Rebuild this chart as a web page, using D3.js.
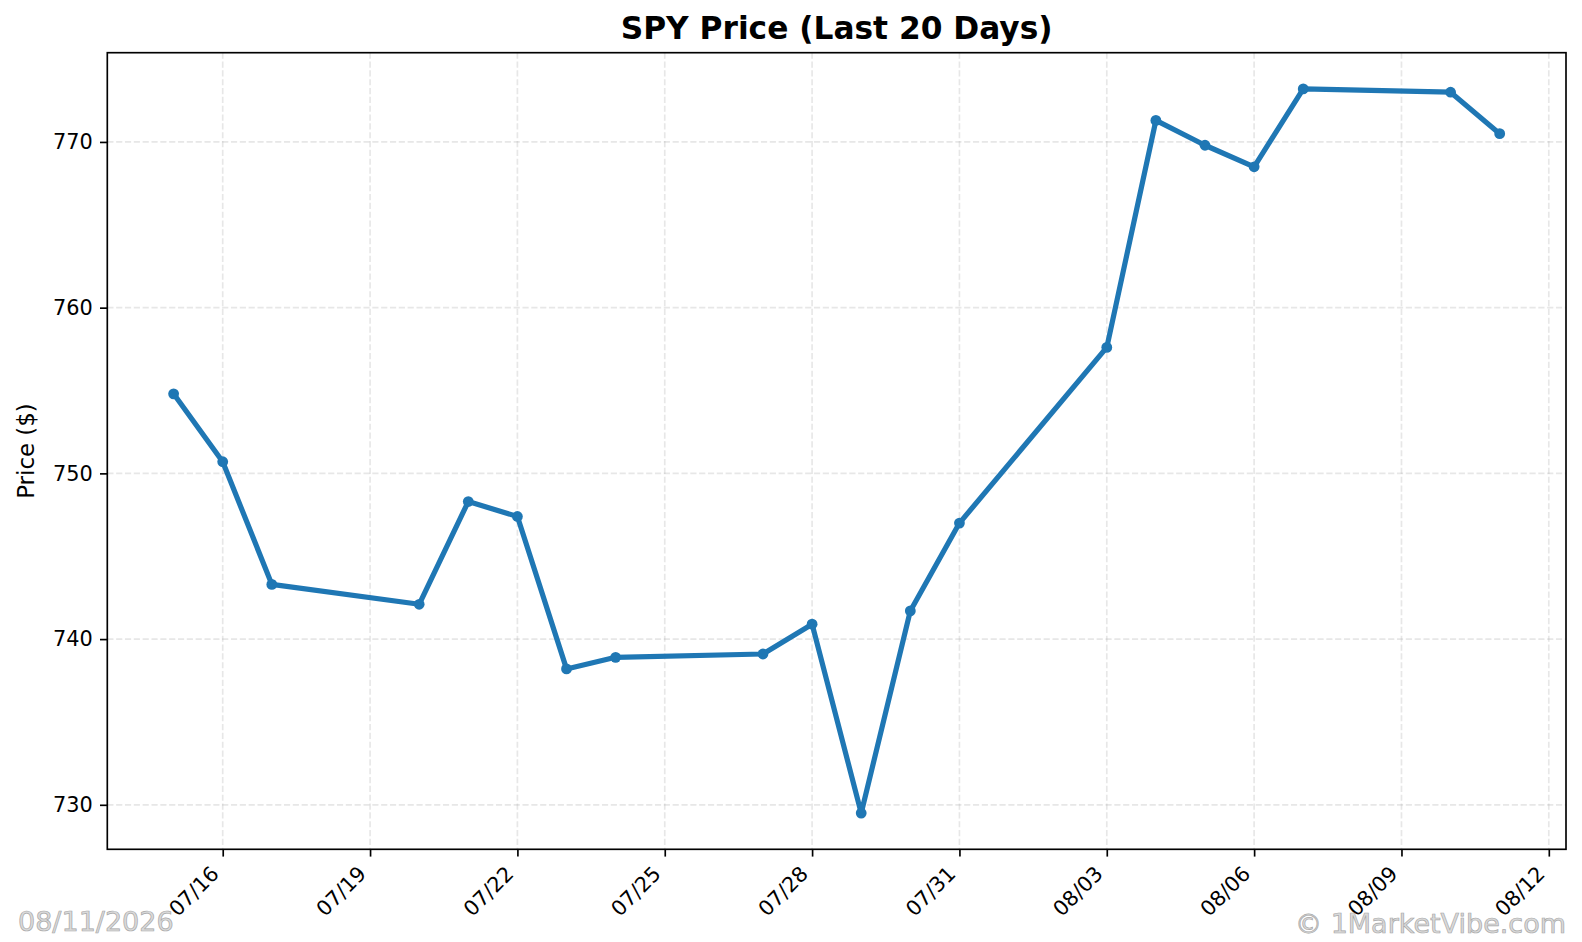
<!DOCTYPE html>
<html>
<head>
<meta charset="utf-8">
<style>
body { margin: 0; background: #fff; }
text { font-family: "DejaVu Sans", sans-serif; }
#xAxis path, #yAxis path { display: none; }
</style>
</head>
<body>
<div id="chart"></div>
<script src="https://d3js.org/d3.v7.min.js"></script>
<script>

// SPY closing prices, last 20 trading days (2026)
var dates = ["07/15", "07/16", "07/17", "07/20", "07/21", "07/22", "07/23", "07/24",
             "07/27", "07/28", "07/29", "07/30", "07/31", "08/03", "08/04", "08/05",
             "08/06", "08/07", "08/10", "08/11"];
var prices = [754.8, 750.7, 743.3, 742.1, 748.3, 747.4, 738.2, 738.9,
              739.1, 740.9, 729.5, 741.7, 747.0, 757.6, 771.3, 769.8,
              768.5, 773.2, 773.0, 770.5];
var xTickLabels = ["07/16", "07/19", "07/22", "07/25", "07/28", "07/31",
                   "08/03", "08/06", "08/09", "08/12"];
var yTicks = [730, 740, 750, 760, 770];
var year = 2026;

var W = 1582, H = 942;
var margin = {top: 52.7, right: 16, bottom: 92.7, left: 107.3};
var width = W - margin.left - margin.right,
    height = H - margin.top - margin.bottom;

var pt = 150 / 72;          // figure was rendered at 150 dpi
var fs = 10 * pt;           // tick font size
var tickLen = 3.5 * pt;
var pad = 3.5 * pt;

var parse = function(s) {
  var p = s.split("/");
  return new Date(Date.UTC(year, +p[0] - 1, +p[1]));
};

var data = dates.map(function(d, i) { return {date: parse(d), price: prices[i]}; });

var svg = d3.select("#chart")
  .append("svg")
    .attr("width", W)
    .attr("height", H);

svg.append("rect").attr("width", W).attr("height", H).attr("fill", "#fff");

var g = svg.append("g")
    .attr("transform", "translate(" + margin.left + "," + margin.top + ")");

// matplotlib-like 5% margins
var xExt = d3.extent(data, function(d) { return d.date; });
var xSpan = xExt[1] - xExt[0];
var x = d3.scaleUtc()
  .domain([new Date(+xExt[0] - 0.05 * xSpan), new Date(+xExt[1] + 0.05 * xSpan)])
  .range([0, width]);

var yExt = d3.extent(prices);
var ySpan = yExt[1] - yExt[0];
var y = d3.scaleLinear()
  .domain([yExt[0] - 0.05 * ySpan, yExt[1] + 0.05 * ySpan])
  .range([height, 0]);

var xTicks = xTickLabels.map(parse);

// grid
var grid = g.append("g")
  .attr("stroke", "#b0b0b0")
  .attr("stroke-opacity", 0.3)
  .attr("stroke-width", 0.8 * pt)
  .attr("stroke-dasharray", (2.96 * pt) + "," + (1.28 * pt));

grid.selectAll(".vgrid")
  .data(xTicks)
  .enter()
  .append("line")
    .attr("x1", function(d) { return x(d); })
    .attr("x2", function(d) { return x(d); })
    .attr("y1", 0)
    .attr("y2", height);

grid.selectAll(".hgrid")
  .data(yTicks)
  .enter()
  .append("line")
    .attr("x1", 0)
    .attr("x2", width)
    .attr("y1", function(d) { return y(d); })
    .attr("y2", function(d) { return y(d); });

// price line
var line = d3.line()
  .x(function(d) { return x(d.date); })
  .y(function(d) { return y(d.price); });

g.append("path")
  .datum(data)
  .attr("fill", "none")
  .attr("stroke", "#1f77b4")
  .attr("stroke-width", 2.5 * pt)
  .attr("stroke-linejoin", "round")
  .attr("d", line);

g.selectAll(".dot")
  .data(data)
  .enter()
  .append("circle")
    .attr("cx", function(d) { return x(d.date); })
    .attr("cy", function(d) { return y(d.price); })
    .attr("r", 5.4)
    .attr("fill", "#1f77b4");

// x axis
var xAxis = g.append("g")
  .attr("id", "xAxis")
  .attr("transform", "translate(0," + height + ")")
  .call(d3.axisBottom(x)
    .tickValues(xTicks)
    .tickFormat(function(d, i) { return xTickLabels[i]; })
    .tickSize(tickLen)
    .tickSizeOuter(0));

xAxis.selectAll("line").attr("stroke", "#000").attr("stroke-width", 0.8 * pt);
xAxis.selectAll("text")
  .attr("fill", "#000")
  .style("font-size", fs + "px")
  .attr("text-anchor", "end")
  .attr("dy", null)
  .attr("x", -3.1)
  .attr("y", tickLen + pad + 11.2)
  .attr("transform", "rotate(-45," + (-3.1) + "," + (tickLen + pad + 11.2) + ")");

// y axis
var yAxis = g.append("g")
  .attr("id", "yAxis")
  .call(d3.axisLeft(y)
    .tickValues(yTicks)
    .tickSize(tickLen)
    .tickPadding(pad)
    .tickSizeOuter(0));

yAxis.selectAll("line").attr("stroke", "#000").attr("stroke-width", 0.8 * pt);
yAxis.selectAll("text")
  .attr("fill", "#000")
  .style("font-size", fs + "px");

// frame
g.append("rect")
  .attr("width", width)
  .attr("height", height)
  .attr("fill", "none")
  .attr("stroke", "#000")
  .attr("stroke-width", 0.8 * pt);

// title and label
svg.append("text")
  .attr("x", margin.left + width / 2)
  .attr("y", 39)
  .attr("text-anchor", "middle")
  .style("font-size", (15 * pt) + "px")
  .style("font-weight", "bold")
  .text("SPY Price (Last 20 Days)");

svg.append("text")
  .attr("transform", "translate(34," + (margin.top + height / 2) + ") rotate(-90)")
  .attr("text-anchor", "middle")
  .style("font-size", (11 * pt) + "px")
  .text("Price ($)");

// watermarks
svg.append("text")
  .attr("x", 18)
  .attr("y", 931)
  .style("font-size", "27px")
  .attr("fill", "#dadada")
  .attr("stroke", "#a8a8a8")
  .attr("stroke-width", 0.7)
  .text("08/11/2026");

svg.append("text")
  .attr("x", 1566)
  .attr("y", 933)
  .attr("text-anchor", "end")
  .style("font-size", "27px")
  .attr("fill", "#dadada")
  .attr("stroke", "#a8a8a8")
  .attr("stroke-width", 0.7)
  .text("\u00a9 1MarketVibe.com");

</script>
</body>
</html>
